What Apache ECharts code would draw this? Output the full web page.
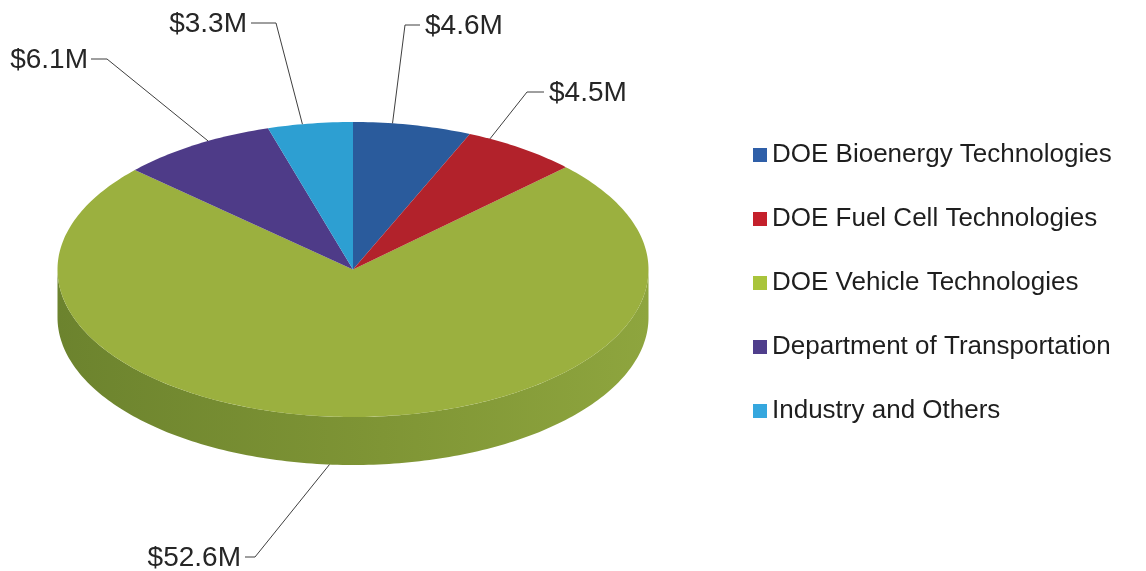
<!DOCTYPE html>
<html>
<head>
<meta charset="utf-8">
<script src="https://cdn.jsdelivr.net/npm/echarts@6/dist/echarts.min.js"></script>
<style>
  html, body { margin: 0; padding: 0; background: #fff; }
  #main { width: 1146px; height: 571px; }
</style>
</head>
<body>
<div id="main"></div>
<script>
// data
const categories = [
  'DOE Bioenergy Technologies',
  'DOE Fuel Cell Technologies',
  'DOE Vehicle Technologies',
  'Department of Transportation',
  'Industry and Others'
];
const values = [4.6, 4.5, 52.6, 6.1, 3.3];
const valueLabels = ['$4.6M', '$4.5M', '$52.6M', '$6.1M', '$3.3M'];

// styles
const topColors = ['#2a5b9c', '#b2222b', '#9bb03f', '#4e3b88', '#2d9fd2'];
const legendColors = ['#2f5fa8', '#c4202b', '#a9c43b', '#4f3e8c', '#35a7de'];
const sideStops = [
  { offset: 0, color: '#6c832e' },
  { offset: 0.55, color: '#7f9535' },
  { offset: 1, color: '#8ea53e' }
];

// pie geometry (top face ellipse + wall depth)
const pie = { cx: 353, cy: 269.5, rx: 295.5, ry: 147.5, depth: 48 };

// label layout: where on the slice the leader starts, the elbow, the text anchor
const labelLayout = [
  { frac: 0.33, elbow: [405, 25], end: [420, 25], text: [425, 26], align: 'left', onSide: false },
  { frac: 0.19, elbow: [527, 92], end: [544, 92], text: [549, 93], align: 'left', onSide: false },
  { frac: 0.52, elbow: [255, 557], end: [245, 557], text: [241, 558], align: 'right', onSide: true },
  { frac: 0.59, elbow: [107, 59], end: [91, 59], text: [88, 60], align: 'right', onSide: false },
  { frac: 0.41, elbow: [276, 23], end: [251, 23], text: [247, 24], align: 'right', onSide: false }
];

const total = values.reduce((a, b) => a + b, 0);
const starts = [];
let acc = 0;
values.forEach(v => { starts.push(acc / total * 360); acc += v; });

// angle in degrees clockwise from 12 o'clock
function pt(deg, dy) {
  const r = deg * Math.PI / 180;
  return [pie.cx + pie.rx * Math.sin(r), pie.cy - pie.ry * Math.cos(r) + (dy || 0)];
}
function arc(a0, a1, dy) {
  const pts = [];
  const n = Math.max(2, Math.ceil(Math.abs(a1 - a0)));
  for (let i = 0; i <= n; i++) pts.push(pt(a0 + (a1 - a0) * i / n, dy));
  return pts;
}

function makeRender(idx) {
  return function (params, api) {
    const a0 = starts[idx];
    const a1 = a0 + values[idx] / total * 360;
    const children = [];

    // front wall (visible between 90 and 270 degrees)
    const s = Math.max(a0, 90), e = Math.min(a1, 270);
    if (e > s) {
      children.push({
        type: 'polygon',
        z2: 1,
        shape: { points: arc(s, e, 0).concat(arc(e, s, pie.depth)) },
        style: { fill: new echarts.graphic.LinearGradient(0, 0, 1, 0, sideStops) }
      });
    }

    // top face
    children.push({
      type: 'polygon',
      z2: 2,
      shape: { points: [[pie.cx, pie.cy]].concat(arc(a0, a1, 0)) },
      style: { fill: topColors[idx] }
    });

    // leader line + label
    const lay = labelLayout[idx];
    const start = pt(a0 + (a1 - a0) * lay.frac, lay.onSide ? pie.depth : 0);
    children.push({
      type: 'polyline',
      z2: 3,
      shape: { points: [start, lay.elbow, lay.end] },
      style: { stroke: '#3f3f3f', lineWidth: 1, fill: null }
    });
    children.push({
      type: 'text',
      z2: 3,
      style: {
        x: lay.text[0],
        y: lay.text[1],
        text: valueLabels[idx],
        fill: '#262626',
        font: '28px "Liberation Sans", Arial, sans-serif',
        align: lay.align,
        verticalAlign: 'middle'
      }
    });

    return { type: 'group', children: children };
  };
}

const chart = echarts.init(document.getElementById('main'), null, { renderer: 'canvas' });

const option = {
  backgroundColor: '#ffffff',
  animation: false,
  legend: {
    orient: 'vertical',
    left: 748,
    top: 135,
    itemWidth: 14,
    itemHeight: 14,
    itemGap: 34,
    icon: 'rect',
    selectedMode: false,
    data: categories,
    textStyle: {
      fontFamily: '"Liberation Sans", Arial, sans-serif',
      fontSize: 26,
      lineHeight: 30,
      color: '#1e1e1e'
    }
  },
  series: categories.map((name, i) => ({
    name: name,
    type: 'custom',
    coordinateSystem: 'none',
    z: i === 2 ? 1 : 2,
    itemStyle: { color: legendColors[i] },
    renderItem: makeRender(i),
    data: [[values[i]]]
  }))
};

chart.setOption(option);
</script>
</body>
</html>
